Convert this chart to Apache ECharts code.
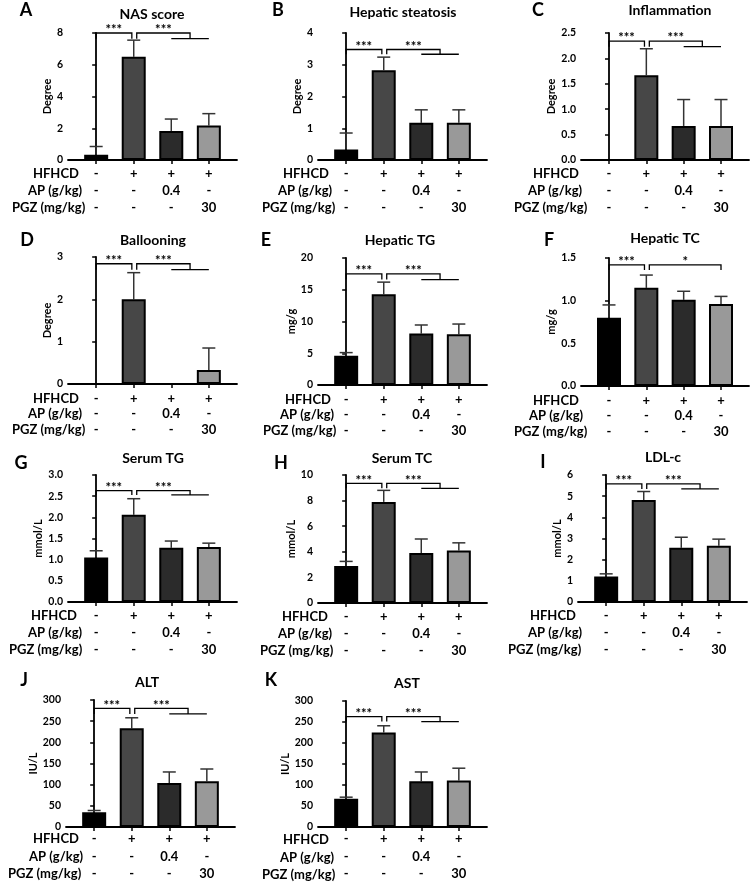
<!DOCTYPE html>
<html>
<head>
<meta charset="utf-8">
<script src="https://cdn.jsdelivr.net/npm/echarts@6/dist/echarts.min.js"></script>
<style>
  html, body { margin: 0; padding: 0; background: #fff; }
  #chart { width: 750px; height: 883px; }
</style>
</head>
<body>
<div id="chart"></div>
<script>
// groups (table under each chart)
const groupHFHCD = ['-', '+', '+', '+'];
const groupAP = ['-', '-', '0.4', '-'];
const groupPGZ = ['-', '-', '-', '30'];
const rowNames = ['HFHCD', 'AP (g/kg)', 'PGZ (mg/kg)'];
const barColors = ['#000000', '#474747', '#2b2b2b', '#999999'];

const panelLetters = ['A', 'B', 'C', 'D', 'E', 'F', 'G', 'H', 'I', 'J', 'K'];
const panelTitles = ['NAS score', 'Hepatic steatosis', 'Inflammation', 'Ballooning', 'Hepatic TG', 'Hepatic TC',
  'Serum TG', 'Serum TC', 'LDL-c', 'ALT', 'AST'];
const yUnits = ['Degree', 'Degree', 'Degree', 'Degree', 'mg/g', 'mg/g', 'mmol/L', 'mmol/L', 'mmol/L', 'IU/L', 'IU/L'];
const yMax = [8, 4, 2.5, 3, 20, 1.5, 3, 10, 6, 300, 300];
const yStep = [2, 1, 0.5, 1, 5, 0.5, 0.5, 2, 1, 50, 50];
const yDecimals = [0, 0, 1, 0, 0, 1, 1, 0, 0, 0, 0];

// mean and SD per group
const nasMean = [0.33, 6.5, 1.83, 2.17];
const nasSd = [0.52, 1.05, 0.75, 0.75];
const steatosisMean = [0.33, 2.83, 1.17, 1.17];
const steatosisSd = [0.52, 0.41, 0.41, 0.41];
const inflamMean = [0, 1.67, 0.67, 0.67];
const inflamSd = [0, 0.52, 0.52, 0.52];
const balloonMean = [0, 2.0, 0, 0.33];
const balloonSd = [0, 0.63, 0, 0.52];
const hepTgMean = [4.6, 14.3, 8.1, 8.0];
const hepTgSd = [0.5, 1.9, 1.35, 1.6];
const hepTcMean = [0.80, 1.15, 1.01, 0.96];
const hepTcSd = [0.15, 0.15, 0.10, 0.09];
const serTgMean = [1.05, 2.06, 1.28, 1.30];
const serTgSd = [0.16, 0.38, 0.16, 0.09];
const serTcMean = [2.9, 7.9, 3.9, 4.1];
const serTcSd = [0.35, 0.9, 1.1, 0.6];
const ldlMean = [1.2, 4.82, 2.56, 2.66];
const ldlSd = [0.13, 0.4, 0.5, 0.31];
const altMean = [35, 233, 104, 108];
const altSd = [4, 25, 26, 29];
const astMean = [67, 225, 109, 111];
const astSd = [4, 16, 22, 29];

const panelMeans = [nasMean, steatosisMean, inflamMean, balloonMean, hepTgMean, hepTcMean, serTgMean, serTcMean, ldlMean, altMean, astMean];
const panelSds = [nasSd, steatosisSd, inflamSd, balloonSd, hepTgSd, hepTcSd, serTgSd, serTcSd, ldlSd, altSd, astSd];

// significance brackets
const sigTop = [8.0, 3.48, 2.34, 2.84, 17.5, 1.42, 2.63, 9.35, 5.58, 280, 263];
const sigBottom = [7.64, 3.33, 2.23, 2.7, 16.6, 1.36, 2.53, 8.96, 5.34, 267, 251];
const sigLeft = ['***', '***', '***', '***', '***', '***', '***', '***', '***', '***', '***'];
const sigRight = ['***', '***', '***', '***', '***', '*', '***', '***', '***', '***', '***'];
const sigRightToBoth = [true, true, true, true, true, false, true, true, true, true, true];

// layout: [axis left, plot top, plot bottom, axis right]
const panelBox = [
  [68, 33, 160, 237], [318, 33, 160, 487], [581, 33, 160, 749],
  [68, 257, 384, 237], [318, 258, 385, 487], [581, 258, 386, 749],
  [68, 475, 602, 237], [318, 475, 603, 487], [578, 475, 602, 747],
  [66, 700, 827, 235], [318, 701, 828, 487]
];
const titlePos = [[152, 14], [403, 12], [670, 10], [153, 240], [400, 240], [665, 238],
  [153, 458], [402, 458], [663, 457], [147, 682], [407, 683]];
const letterPos = [[26, 10], [278, 10], [538, 10], [27, 240], [266, 240], [549, 240],
  [21, 463], [281, 463], [543, 462], [24, 680], [271, 680]];
const rowX = [[33, 28, 12], [283, 278, 262], [533, 528, 514], [33, 28, 12], [285, 280, 263], [533, 529, 514],
  [31, 28, 9], [282, 278, 260], [530, 528, 508], [33, 29, 8], [283, 280, 262]];
const rowGap = [17, 17, 17, 15.5, 15.5, 15.5, 17, 17, 17, 17.5, 17.5];
const labelMargin = [5.5, 5.5, 5.5, 7, 7, 7, 5.5, 5.5, 5.5, 3.5, 3.5];
const nameGap = [15, 15, 24, 15, 19, 24, 22, 19, 14, 24, 24];

const FONT = 'Lato';
const chart = echarts.init(document.getElementById('chart'), null, { renderer: 'canvas' });

const grid = [], xAxis = [], yAxis = [], series = [], graphic = [];

const addText = (text, x, y, size, align) => {
  graphic.push({
    type: 'text', x: x, y: y, silent: true,
    style: { text: text, align: align, verticalAlign: 'middle', font: 'bold ' + size + 'px ' + FONT, fill: '#000' }
  });
};

panelMeans.forEach((mean, i) => {
  const box = panelBox[i];
  grid.push({ left: box[0], top: box[1], width: box[3] - box[0], height: box[2] - box[1], containLabel: false });

  xAxis.push({
    gridIndex: i, type: 'value', min: -0.75, max: 3.75,
    axisLine: { show: true, lineStyle: { color: '#000', width: 1.8 } },
    axisTick: { show: true, customValues: [0, 1, 2, 3], length: 4, lineStyle: { color: '#000', width: 1.5 } },
    axisLabel: {
      customValues: [0, 1, 2, 3],
      formatter: v => {
        const k = Math.round(v);
        return groupHFHCD[k] + '\n' + groupAP[k] + '\n' + groupPGZ[k];
      },
      color: '#000', fontFamily: FONT, fontWeight: 'bold', fontSize: 13,
      lineHeight: rowGap[i], margin: labelMargin[i]
    },
    splitLine: { show: false }
  });

  yAxis.push({
    gridIndex: i, type: 'value', min: 0, max: yMax[i], interval: yStep[i],
    name: yUnits[i], nameLocation: 'middle', nameGap: nameGap[i], nameRotate: 90,
    nameTextStyle: { color: '#000', fontFamily: FONT, fontWeight: 'bold', fontSize: 11 },
    axisLine: { show: true, lineStyle: { color: '#000', width: 1.8 } },
    axisTick: { show: true, length: 4, lineStyle: { color: '#000', width: 1.5 } },
    axisLabel: {
      color: '#000', fontFamily: FONT, fontWeight: 'bold', fontSize: 10.5, margin: 5,
      formatter: v => v.toFixed(yDecimals[i])
    },
    splitLine: { show: false }
  });

  // error bars (upper only)
  series.push({
    type: 'custom', xAxisIndex: i, yAxisIndex: i, silent: true, clip: false, z: 1,
    data: mean.map((m, k) => [k, m, m + panelSds[i][k]]),
    renderItem: (params, api) => {
      if (api.value(2) <= api.value(1)) return null;
      const base = api.coord([api.value(0), api.value(1)]);
      const top = api.coord([api.value(0), api.value(2)]);
      const st = { stroke: '#333', lineWidth: 1.5 };
      return {
        type: 'group', children: [
          { type: 'line', shape: { x1: base[0], y1: base[1], x2: top[0], y2: top[1] }, style: st },
          { type: 'line', shape: { x1: top[0] - 6.5, y1: top[1], x2: top[0] + 6.5, y2: top[1] }, style: st }
        ]
      };
    }
  });

  // bars
  series.push({
    type: 'bar', xAxisIndex: i, yAxisIndex: i, barWidth: 24, z: 2, silent: true,
    itemStyle: { borderColor: '#000', borderWidth: 2 },
    data: mean.map((m, k) => ({ value: [k, m], itemStyle: { color: barColors[k] } }))
  });

  // significance brackets
  series.push({
    type: 'custom', xAxisIndex: i, yAxisIndex: i, silent: true, clip: false, z: 5,
    data: [[sigTop[i], sigBottom[i]]],
    renderItem: (params, api) => {
      const top = api.value(0), bot = api.value(1);
      const line = pts => ({
        type: 'polyline',
        shape: { points: pts.map(q => api.coord([q[0], q[1]])) },
        style: { stroke: '#000', lineWidth: 1.3, fill: null }
      });
      const txt = (x, s) => {
        const c = api.coord([x, top]);
        return {
          type: 'text',
          style: { text: s, x: c[0], y: c[1] - 3, align: 'center', verticalAlign: 'middle', font: 'bold 13px ' + FONT, fill: '#000' }
        };
      };
      const children = [line([[0, bot], [0, top], [0.95, top], [0.95, bot]]), txt(0.47, sigLeft[i])];
      if (sigRightToBoth[i]) {
        children.push(line([[1.08, bot], [1.08, top], [2.5, top], [2.5, bot]]));
        children.push(line([[2, bot], [3, bot]]));
        children.push(txt(1.79, sigRight[i]));
      } else {
        children.push(line([[1.08, bot], [1.08, top], [3, top], [3, bot]]));
        children.push(txt(2.04, sigRight[i]));
      }
      return { type: 'group', children: children };
    }
  });

  // texts: letter, title, row names
  addText(panelLetters[i], letterPos[i][0], letterPos[i][1], 18, 'center');
  addText(panelTitles[i], titlePos[i][0], titlePos[i][1], 14, 'center');
  const firstRow = box[2] + labelMargin[i] + rowGap[i] / 2;
  rowNames.forEach((name, r) => {
    addText(name, rowX[i][r], firstRow + r * rowGap[i], 13, 'left');
  });
});

chart.setOption({
  backgroundColor: '#fff',
  animation: false,
  grid: grid,
  xAxis: xAxis,
  yAxis: yAxis,
  series: series,
  graphic: graphic
});
</script>
</body>
</html>
